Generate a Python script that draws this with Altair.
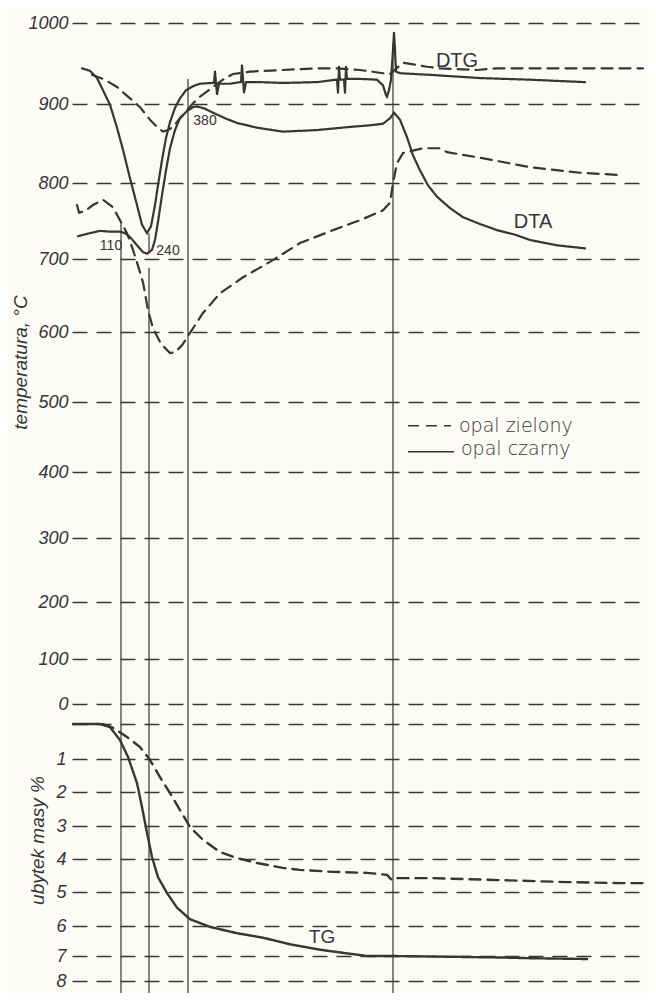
import altair as alt
import pandas as pd

# ---------------- data ----------------
# x = time axis (arbitrary units), temperature-axis units for DTA/DTG, % for TG
temp_ticks = [0, 100, 200, 300, 400, 500, 600, 700, 800, 900, 1000]
mass_ticks = [0, 1, 2, 3, 4, 5, 6, 7, 8]

dtg_czarny_x = [82, 90, 97, 103, 110, 117, 123, 130, 137, 142, 147, 151, 155, 158, 162,
                166, 170, 175, 180, 186, 193, 200, 212, 214, 215, 217, 219, 230, 240, 241,
                242, 244, 246, 260, 283, 317, 336, 337, 338, 339, 340, 344, 345, 346, 347,
                360, 377, 383, 386, 387, 389, 391, 393, 394, 395, 396, 400, 430, 480, 530, 585]
dtg_czarny_t = [944, 941, 932, 917, 899, 870, 842, 806, 771, 745, 734, 743, 771, 797, 829,
                857, 877, 895, 907, 917, 922, 925, 926, 926, 940, 912, 925, 925, 927, 927,
                948, 914, 927, 927, 926, 927, 930, 930, 914, 946, 930, 930, 914, 946, 931,
                931, 930, 923, 911, 909, 917, 930, 967, 988, 967, 940, 938, 936, 932, 930, 927]

dtg_zielony_x = [92, 105, 117, 130, 140, 150, 157, 163, 168, 173, 180, 187, 193, 200, 213,
                 225, 233, 250, 283, 317, 337, 360, 383, 390, 403, 427, 440, 477, 497, 547, 643]
dtg_zielony_t = [936, 930, 921, 907, 896, 880, 871, 865, 867, 871, 882, 892, 901, 909, 921,
                 932, 937, 940, 942, 944, 944, 942, 938, 937, 951, 946, 944, 942, 944, 944, 944]

dta_czarny_x = [78, 90, 100, 110, 120, 125, 130, 137, 143, 147, 152, 155, 158, 162, 166,
                170, 175, 180, 187, 193, 197, 205, 213, 225, 237, 257, 283, 317, 350, 370,
                383, 390, 394, 400, 407, 413, 420, 428, 437, 450, 463, 480, 497, 515, 530,
                557, 585]
dta_czarny_t = [730, 734, 737, 736, 736, 734, 729, 718, 709, 707, 712, 725, 749, 784, 816,
                844, 867, 882, 891, 896, 897, 894, 889, 882, 876, 870, 865, 867, 871, 873,
                875, 882, 889, 880, 858, 835, 816, 797, 782, 767, 755, 746, 738, 732, 725,
                718, 714]

dta_zielony_x = [77, 79, 85, 93, 103, 113, 120, 127, 133, 140, 143, 148, 153, 160, 165,
                 170, 175, 182, 192, 203, 220, 243, 270, 300, 333, 360, 383, 390, 393, 397,
                 403, 423, 440, 447, 480, 530, 580, 621]
dta_zielony_t = [771, 761, 763, 771, 778, 768, 751, 734, 712, 682, 668, 630, 605, 586, 577,
                 570, 571, 581, 603, 626, 653, 675, 696, 721, 738, 751, 764, 774, 800, 825,
                 838, 844, 844, 839, 832, 820, 813, 810]

tg_czarny_x = [73, 100, 110, 120, 128, 137, 142, 147, 152, 158, 167, 177, 190, 210, 237,
               263, 290, 320, 333, 367, 392, 450, 500, 533, 587]
tg_czarny_m = [0, 0, 0.09, 0.46, 0.94, 1.73, 2.44, 3.21, 3.94, 4.55, 5.03, 5.46, 5.8, 6.03, 6.24,
               6.39, 6.61, 6.79, 6.85, 7.0, 7.0, 7.03, 7.06, 7.09, 7.12]

tg_zielony_x = [103, 113, 127, 140, 150, 160, 170, 180, 190, 203, 220, 237, 257, 283, 300,
                333, 367, 387, 392, 397, 433, 500, 567, 620, 647]
tg_zielony_m = [0, 0.11, 0.37, 0.66, 1.03, 1.55, 2.03, 2.53, 3.03, 3.42, 3.79, 3.97, 4.12, 4.27, 4.33,
                4.39, 4.42, 4.48, 4.64, 4.58, 4.58, 4.64, 4.70, 4.73, 4.73]

# vertical marker lines (time position, top on the temperature axis)
vline_x = [121, 149, 149, 188, 393]
vline_top = [749, 734, 688, 931, 975]
vline_bottom = [None, 707, None, None, None]

# curve labels
label_text = ["DTG", "DTA"]
label_x = [457, 533]
label_t = [953, 749]
peak_text = ["110", "240", "380"]
peak_x = [111, 168, 205]
peak_t = [717, 711, 878]
tg_label_x = [322]
tg_label_m = [6.36]

legend_names = ["opal zielony", "opal czarny"]
legend_x1 = [408, 408]
legend_x2 = [451, 454]
legend_line_t = [466, 429]
legend_text_x = [459, 461]
legend_text_t = [466, 433]

# ---------------- layout / style ----------------
INK = "#363636"
FONT = "Liberation Sans"
W, H = 576, 985
# pixel positions (from the plot top) of the gridlines of both axes
TEMP_RANGE = [696, 651, 594, 530, 464, 394, 324, 251, 175, 96, 15]
MASS_RANGE = [716, 751, 784, 818, 851, 884, 918, 948, 973]


def curve(xs, ys, name, opal, field):
    return pd.DataFrame({"czas": xs, field: ys, "krzywa": name, "opal": opal,
                         "i": list(range(len(xs)))})


temp_df = pd.concat([
    curve(dtg_czarny_x, dtg_czarny_t, "DTG czarny", "opal czarny", "temp"),
    curve(dtg_zielony_x, dtg_zielony_t, "DTG zielony", "opal zielony", "temp"),
    curve(dta_czarny_x, dta_czarny_t, "DTA czarny", "opal czarny", "temp"),
    curve(dta_zielony_x, dta_zielony_t, "DTA zielony", "opal zielony", "temp"),
], ignore_index=True)

mass_df = pd.concat([
    curve(tg_czarny_x, tg_czarny_m, "TG czarny", "opal czarny", "masa"),
    curve(tg_zielony_x, tg_zielony_m, "TG zielony", "opal zielony", "masa"),
], ignore_index=True)

vl_full = pd.DataFrame({"czas": [x for x, b in zip(vline_x, vline_bottom) if b is None],
                        "temp": [t for t, b in zip(vline_top, vline_bottom) if b is None]})
vl_part = pd.DataFrame({"czas": [x for x, b in zip(vline_x, vline_bottom) if b is not None],
                        "temp": [t for t, b in zip(vline_top, vline_bottom) if b is not None],
                        "temp2": [b for b in vline_bottom if b is not None]})

lab_df = pd.DataFrame({"txt": label_text, "czas": label_x, "temp": label_t})
peak_df = pd.DataFrame({"txt": peak_text, "czas": peak_x, "temp": peak_t})
tg_lab_df = pd.DataFrame({"txt": ["TG"], "czas": tg_label_x, "masa": tg_label_m})
leg_df = pd.DataFrame({"opal": legend_names, "czas": legend_x1, "czas2": legend_x2,
                       "temp": legend_line_t, "tx": legend_text_x, "tt": legend_text_t})

xscale = alt.Scale(domain=[72, 72 + W], nice=False, zero=False)
tscale = alt.Scale(domain=temp_ticks, range=TEMP_RANGE, nice=False, zero=False)
mscale = alt.Scale(domain=mass_ticks, range=MASS_RANGE, nice=False, zero=False)
dash_scale = alt.Scale(domain=["opal zielony", "opal czarny"], range=[[11, 7], [1, 0]])

common_axis = dict(orient="left", grid=True, gridDash=[15, 9], gridColor=INK, gridWidth=1.5,
                   gridOpacity=1, domain=False, ticks=False, format="d", labelFont=FONT,
                   labelFontSize=18, labelFontStyle="italic", labelColor=INK,
                   labelBaseline="middle", titleFont=FONT, titleFontSize=19,
                   titleFontStyle="italic", titleFontWeight="normal", titleColor=INK,
                   titleAngle=270, titleAlign="center", titleBaseline="middle")

temp_axis = alt.Axis(values=temp_ticks, title="temperatura, °C", labelPadding=4,
                     titleX=-52, titleY=354, **common_axis)
mass_axis = alt.Axis(values=mass_ticks, title="ubytek masy %", labelPadding=6,
                     labelExpr="datum.value == 0 ? '' : datum.label",
                     titleX=-35, titleY=832, **common_axis)

X = alt.X("czas:Q", scale=xscale, axis=None)
YT = alt.Y("temp:Q", scale=tscale, axis=temp_axis)
YM = alt.Y("masa:Q", scale=mscale, axis=mass_axis)

temp_lines = alt.Chart(temp_df).mark_line(strokeWidth=2.2, color=INK, strokeCap="round").encode(
    x=X, y=YT, detail="krzywa:N", order="i:Q",
    strokeDash=alt.StrokeDash("opal:N", scale=dash_scale, legend=None))

vrules = alt.Chart(vl_full).mark_rule(strokeWidth=1.2, color=INK).encode(
    x=X, y=YT, y2=alt.value(H))
vrules2 = alt.Chart(vl_part).mark_rule(strokeWidth=1.2, color=INK).encode(
    x=X, y=YT, y2="temp2:Q")

labels = alt.Chart(lab_df).mark_text(font=FONT, fontSize=20, color=INK, align="center",
                                     baseline="middle").encode(x=X, y=YT, text="txt:N")
peaks = alt.Chart(peak_df).mark_text(font=FONT, fontSize=14, color=INK, align="center",
                                     baseline="middle").encode(x=X, y=YT, text="txt:N")

leg_rules = alt.Chart(leg_df).mark_rule(strokeWidth=1.6, color=INK).encode(
    x=X, x2="czas2:Q", y=YT,
    strokeDash=alt.StrokeDash("opal:N", scale=dash_scale, legend=None))
leg_text = alt.Chart(leg_df).mark_text(font="DejaVu Sans", fontWeight=300, fontSize=19,
                                       color=INK, align="left", baseline="middle").encode(
    x=alt.X("tx:Q", scale=xscale, axis=None),
    y=alt.Y("tt:Q", scale=tscale, axis=temp_axis), text="opal:N")

temp_layer = alt.layer(temp_lines, vrules, vrules2, labels, peaks, leg_rules, leg_text)

mass_lines = alt.Chart(mass_df).mark_line(strokeWidth=2.4, color=INK, strokeCap="round").encode(
    x=X, y=YM, detail="krzywa:N", order="i:Q",
    strokeDash=alt.StrokeDash("opal:N", scale=dash_scale, legend=None))
tg_text = alt.Chart(tg_lab_df).mark_text(font=FONT, fontSize=19, color=INK, align="center",
                                         baseline="middle").encode(x=X, y=YM, text="txt:N")
mass_layer = alt.layer(mass_lines, tg_text)

chart = alt.layer(temp_layer, mass_layer).resolve_scale(y="independent").properties(
    width=W, height=H,
    autosize=alt.AutoSizeParams(type="none"),
    padding={"left": 64, "top": 0, "right": 0, "bottom": 0},
    background="#fcfbf6",
).configure_view(stroke=None)

chart.save("out.html", embed_options={"renderer": "svg", "actions": False})
